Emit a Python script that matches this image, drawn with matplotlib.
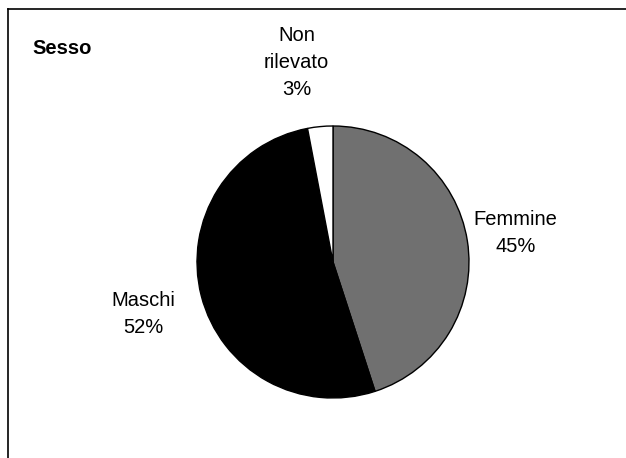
import numpy as np
import matplotlib.pyplot as plt
from matplotlib.lines import Line2D

# dati
categorie = ["Femmine", "Maschi", "Non\nrilevato"]
valori = [45, 52, 3]
colori = ["#707070", "#000000", "#ffffff"]
dist_etichette = [1.36, 1.45, 1.49]
scarto_angolo = [0, 1, 5]   # gradi

plt.rcParams['font.family'] = ['Liberation Sans', 'DejaVu Sans']

fig = plt.figure(figsize=(6.26, 4.58), dpi=100)
ax = fig.add_axes([0, 0, 1, 1])

cx, cy, r = 333, 458 - 262, 136
wedges, _ = ax.pie(valori, colors=colori, startangle=90, counterclock=False,
                   center=(cx, cy), radius=r,
                   wedgeprops=dict(edgecolor="black", linewidth=1.0))
ax.set_xlim(0, 626)
ax.set_ylim(0, 458)
ax.set_aspect("equal")
ax.axis("off")

# etichette
for w, cat, v, k, da in zip(wedges, categorie, valori, dist_etichette, scarto_angolo):
    ang = np.deg2rad((w.theta1 + w.theta2) / 2 + da)
    x = cx + k * r * np.cos(ang)
    y = cy + k * r * np.sin(ang)
    ax.text(x, y, "%s\n%d%%" % (cat, v), ha="center", va="center",
            fontsize=14.5, linespacing=1.55)

ax.text(32, 458 - 48, "Sesso", fontsize=14.5, fontweight="bold",
        ha="left", va="center")

# cornice
fig.add_artist(Line2D([8 / 626, 1], [1 - 9 / 458, 1 - 9 / 458], color="black", lw=1.2))
fig.add_artist(Line2D([8 / 626, 8 / 626], [0, 1 - 9 / 458], color="black", lw=1.2))

fig.savefig("out.png", dpi=100)
